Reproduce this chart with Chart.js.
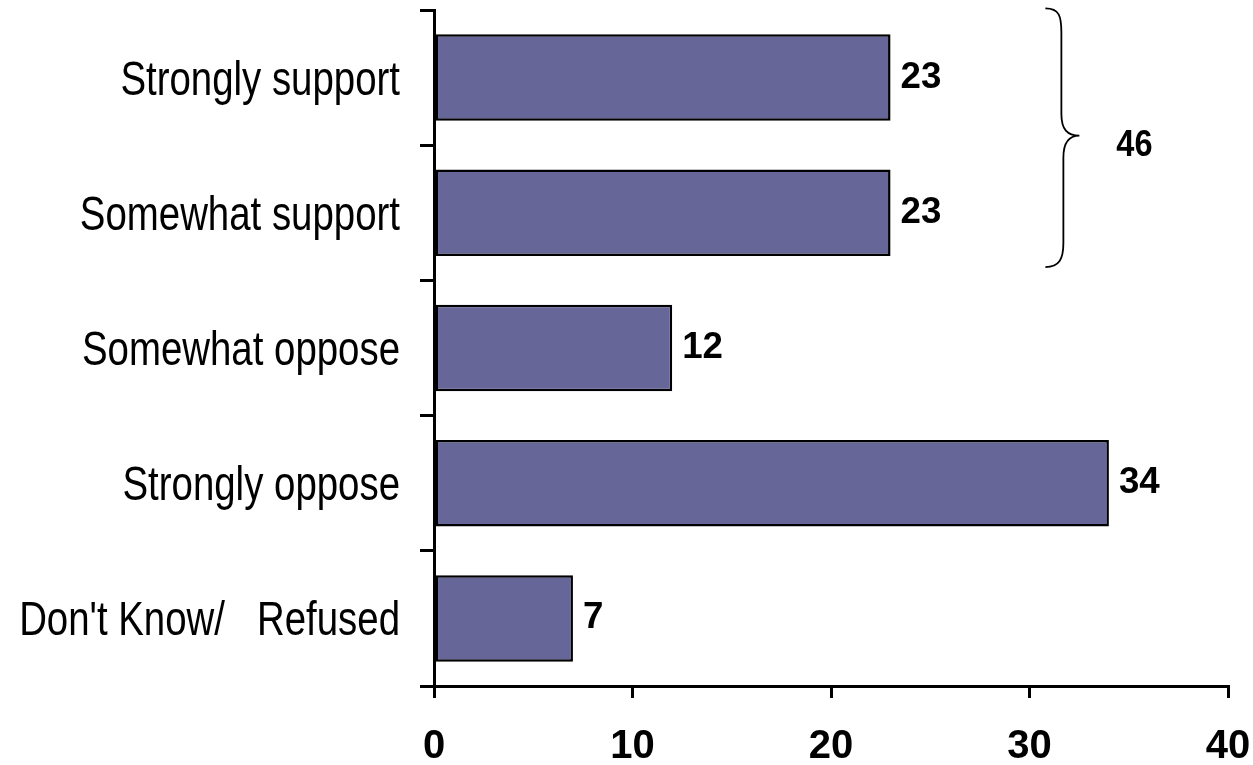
<!DOCTYPE html>
<html>
<head>
<meta charset="utf-8">
<script src="https://cdn.jsdelivr.net/npm/chart.js@4"></script>
<style>
  html, body { margin: 0; padding: 0; background: #fff; }
  #wrap { width: 1253px; height: 765px; }
</style>
</head>
<body>
<div id="wrap"><canvas id="chart"></canvas></div>
<script>
var categories = ['Strongly support', 'Somewhat support', 'Somewhat oppose', 'Strongly oppose', "Don't Know/   Refused"];
var values = [23, 23, 12, 34, 7];
var xTicks = [0, 10, 20, 30, 40];
var supportTotal = 46;

// draw text squeezed or stretched horizontally
function drawScaledText(ctx, text, x, y, sx, align) {
    ctx.save();
    ctx.translate(x, y);
    ctx.scale(sx, 1);
    ctx.textAlign = align;
    ctx.fillText(text, 0, 0);
    ctx.restore();
}

// narrow category labels left of the y axis
const categoryLabels = {
    id: 'categoryLabels',
    afterDraw(chart) {
        const ctx = chart.ctx;
        const ys = chart.scales.y;
        ctx.save();
        ctx.font = '48px "Liberation Sans", Arial, sans-serif';
        ctx.fillStyle = '#000';
        ctx.textBaseline = 'alphabetic';
        ys.ticks.forEach(function (t, i) {
            const y = ys.getPixelForTick(i);
            drawScaledText(ctx, categories[t.value], ys.right - 34, y + 17, 0.8, 'right');
        });
        ctx.restore();
    }
};

// value labels at the end of each bar
const valueLabels = {
    id: 'valueLabels',
    afterDatasetsDraw(chart) {
        const ctx = chart.ctx;
        const meta = chart.getDatasetMeta(0);
        ctx.save();
        ctx.font = 'bold 36px "Liberation Sans", Arial, sans-serif';
        ctx.fillStyle = '#000';
        ctx.textBaseline = 'alphabetic';
        meta.data.forEach(function (bar, i) {
            drawScaledText(ctx, values[i], bar.x + 10, bar.y + 10, 1.02, 'left');
        });
        ctx.restore();
    }
};

// curly brace grouping the two support bars
const brace = {
    id: 'brace',
    afterDraw(chart) {
        const ctx = chart.ctx;
        const meta = chart.getDatasetMeta(0);
        const xs = chart.scales.x;
        const b0 = meta.data[0], b1 = meta.data[1];
        const top = b0.y - b0.height / 2 - 26;
        const bot = b1.y + b1.height / 2 + 11;
        const mid = (top + bot) / 2 - 2;
        const x0 = xs.getPixelForValue(30.8);
        const x1 = x0 + 16;
        const tip = x0 + 34;
        ctx.save();
        ctx.strokeStyle = '#000';
        ctx.lineWidth = 1.8;
        ctx.beginPath();
        ctx.moveTo(x0, top);
        ctx.bezierCurveTo(x1 - 2, top, x1, top + 8, x1, top + 24);
        ctx.lineTo(x1, mid - 22);
        ctx.bezierCurveTo(x1, mid - 6, x1 + 6, mid, tip, mid);
        ctx.bezierCurveTo(x1 + 8, mid, x1 + 2, mid + 6, x1 + 2, mid + 22);
        ctx.lineTo(x1 + 2, bot - 24);
        ctx.bezierCurveTo(x1 + 2, bot - 8, x1 - 2, bot, x0, bot);
        ctx.stroke();
        ctx.font = 'bold 37px "Liberation Sans", Arial, sans-serif';
        ctx.fillStyle = '#000';
        ctx.textBaseline = 'alphabetic';
        drawScaledText(ctx, supportTotal, tip + 55, mid + 20, 0.88, 'center');
        ctx.restore();
    }
};

new Chart(document.getElementById('chart'), {
    type: 'bar',
    data: {
        labels: categories,
        datasets: [{
            data: values,
            backgroundColor: '#666699',
            borderColor: '#000',
            borderWidth: 2.5,
            borderSkipped: false,
            barPercentage: 0.64,
            categoryPercentage: 1
        }]
    },
    options: {
        indexAxis: 'y',
        responsive: true,
        maintainAspectRatio: false,
        animation: false,
        layout: { padding: { top: 10, right: 25, bottom: 0, left: 0 } },
        plugins: {
            legend: { display: false },
            tooltip: { enabled: false }
        },
        scales: {
            x: {
                min: 0,
                max: 40,
                afterBuildTicks: function (scale) {
                    scale.ticks = xTicks.map(function (v) { return { value: v }; });
                },
                afterFit: function (scale) {
                    scale.height = 79;
                    scale.paddingLeft = 0;
                    scale.paddingRight = 0;
                },
                grid: { drawOnChartArea: false, color: '#000', lineWidth: 3, tickLength: 12 },
                border: { display: true, color: '#000', width: 3 },
                ticks: {
                    color: '#000',
                    padding: 25,
                    maxRotation: 0,
                    font: { family: '"Liberation Sans", Arial, sans-serif', size: 40, weight: 'bold' }
                }
            },
            y: {
                afterFit: function (scale) {
                    scale.width = 434;
                    scale.paddingTop = 0;
                    scale.paddingBottom = 0;
                },
                grid: { offset: true, drawOnChartArea: false, color: '#000', lineWidth: 3, tickLength: 14 },
                border: { display: true, color: '#000', width: 3 },
                ticks: { display: false }
            }
        }
    },
    plugins: [valueLabels, categoryLabels, brace]
});
</script>
</body>
</html>
